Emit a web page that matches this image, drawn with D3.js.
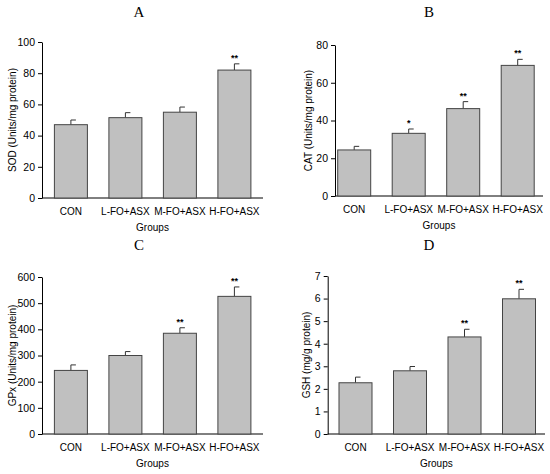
<!DOCTYPE html>
<html><head><meta charset="utf-8">
<script src="https://cdn.jsdelivr.net/npm/d3@7"></script>
<style>body{margin:0;background:#fff}</style></head>
<body><svg id="c" width="550" height="474"></svg>
<script>
const groups = ["CON","L-FO+ASX","M-FO+ASX","H-FO+ASX"];
const sodValues = [47, 51.5, 55, 82];
const sodErrors = [3, 3.2, 3.3, 4];
const sodSig = ["", "", "", "**"];
const catValues = [24.4, 33.2, 46.3, 69.2];
const catErrors = [1.9, 2.3, 3.7, 3.2];
const catSig = ["", "*", "**", "**"];
const gpxValues = [243, 300, 385, 526];
const gpxErrors = [21, 15, 21, 36];
const gpxSig = ["", "", "**", "**"];
const gshValues = [2.27, 2.80, 4.30, 5.99];
const gshErrors = [0.25, 0.19, 0.34, 0.42];
const gshSig = ["", "", "**", "**"];
const sodTicks = [0,20,40,60,80,100];
const catTicks = [0,20,40,60,80];
const gpxTicks = [0,100,200,300,400,500,600];
const gshTicks = [0,1,2,3,4,5,6,7];

const svg = d3.select("#c");
const panels = [
 {title:"A", tx:139, ty:17, ax:42, top:42, bot:198, right:263, bStart:54.4, max:100, ticks:sodTicks, vals:sodValues, errs:sodErrors, sig:sodSig, ylab:"SOD (Units/mg protein)", ylx:12},
 {title:"B", tx:429, ty:17, ax:335, top:45, bot:196, right:543, bStart:337.7, max:80, ticks:catTicks, vals:catValues, errs:catErrors, sig:catSig, ylab:"CAT (Units/mg protein)", ylx:308},
 {title:"C", tx:139, ty:250, ax:42, top:277, bot:434, right:263, bStart:54.4, max:600, ticks:gpxTicks, vals:gpxValues, errs:gpxErrors, sig:gpxSig, ylab:"GPx (Units/mg protein)", ylx:12},
 {title:"D", tx:429, ty:250, ax:327.7, top:276, bot:434, right:545, bStart:339, max:7, ticks:gshTicks, vals:gshValues, errs:gshErrors, sig:gshSig, ylab:"GSH (mg/g protein)", ylx:306}
];
const step = 54.5, bw = 33;
panels.forEach(p => {
  const g = svg.append("g");
  const x = d3.scaleBand().domain(groups).range([p.bStart, p.bStart + 3*step + bw]).paddingInner((step-bw)/step).paddingOuter(0);
  const y = d3.scaleLinear().domain([0,p.max]).range([p.bot,p.top]);
  g.append("text").attr("x",p.tx).attr("y",p.ty).attr("text-anchor","middle")
    .attr("font-family","Liberation Serif, serif").attr("font-size",15).text(p.title);
  const ya = g.append("g").attr("transform",`translate(${p.ax},0)`)
    .call(d3.axisLeft(y).tickValues(p.ticks).tickFormat(d3.format("d")).tickSize(4).tickSizeOuter(0));
  ya.selectAll("text").attr("font-family","Liberation Sans, Arial, sans-serif").attr("font-size",10.5).attr("fill","#000");
  ya.selectAll("line,path").attr("stroke","#000");
  g.append("line").attr("x1",p.ax).attr("x2",p.right).attr("y1",p.bot).attr("y2",p.bot).attr("stroke","#000");
  groups.forEach((d,i) => {
    const bx = x(d), v = p.vals[i], e = p.errs[i];
    const cx = bx + x.bandwidth()/2;
    g.append("line").attr("x1",cx).attr("x2",cx).attr("y1",y(v)).attr("y2",y(v+e)).attr("stroke","#333").attr("stroke-width",1);
    g.append("line").attr("x1",cx).attr("x2",cx+5).attr("y1",y(v+e)).attr("y2",y(v+e)).attr("stroke","#333").attr("stroke-width",1);
    g.append("rect").attr("x",bx).attr("y",y(v)).attr("width",x.bandwidth()).attr("height",y(0)-y(v))
      .attr("fill","#c0c0c0").attr("stroke","#444").attr("stroke-width",1);
    if (p.sig[i]) g.append("text").attr("x",cx).attr("y",y(v+e)-3).attr("text-anchor","middle")
      .attr("font-family","Liberation Sans, Arial, sans-serif").attr("font-size",9).attr("font-weight","bold").text(p.sig[i]);
    g.append("text").attr("x",cx).attr("y",p.bot+17).attr("text-anchor","middle")
      .attr("font-family","Liberation Sans, Arial, sans-serif").attr("font-size",10).text(d);
  });
  g.append("text").attr("x",(p.ax+p.right)/2).attr("y",p.bot+33).attr("text-anchor","middle")
    .attr("font-family","Liberation Sans, Arial, sans-serif").attr("font-size",10).text("Groups");
  g.append("text").attr("transform",`translate(${p.ylx},${(p.top+p.bot)/2}) rotate(-90)`).attr("text-anchor","middle")
    .attr("dy","0.35em").attr("font-family","Liberation Sans, Arial, sans-serif").attr("font-size",10).text(p.ylab);
});
</script></body></html>
